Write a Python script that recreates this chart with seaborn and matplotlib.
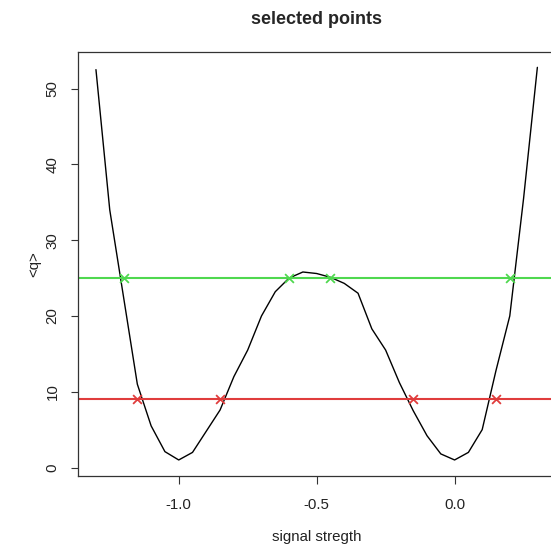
import matplotlib
matplotlib.use("Agg")
import matplotlib.pyplot as plt
import seaborn as sns
import pandas as pd

# signal strength grid and mean q
signal = [-1.30, -1.25, -1.20, -1.15, -1.10, -1.05, -1.00, -0.95, -0.90, -0.85,
          -0.80, -0.75, -0.70, -0.65, -0.60, -0.55, -0.50, -0.45, -0.40, -0.35,
          -0.30, -0.25, -0.20, -0.15, -0.10, -0.05, 0.00, 0.05, 0.10, 0.15,
          0.20, 0.25, 0.30]
q_mean = [52.5, 34.0, 22.5, 11.0, 5.5, 2.1, 1.0, 2.0, 4.8, 7.6,
          12.0, 15.5, 20.0, 23.2, 25.0, 25.8, 25.6, 25.1, 24.3, 23.0,
          18.3, 15.5, 11.2, 7.5, 4.2, 1.8, 1.0, 2.0, 5.0, 12.8,
          20.0, 35.5, 52.8]

# horizontal levels and the grid points picked for each
level_high = 25
level_low = 9
picked_high = [-1.20, -0.60, -0.45, 0.20]
picked_low = [-1.15, -0.85, -0.15, 0.15]

green = "#4fd84f"
red = "#e03c3c"

df = pd.DataFrame({"signal": signal, "q": q_mean})
sel_hi = pd.DataFrame({"signal": picked_high, "q": [level_high] * len(picked_high)})
sel_lo = pd.DataFrame({"signal": picked_low, "q": [level_low] * len(picked_low)})

sns.set_style("ticks")
plt.rcParams["font.family"] = ["Liberation Sans", "DejaVu Sans"]

fig = plt.figure(figsize=(5.51, 5.46), dpi=100)
ax = fig.add_axes([0.1421, 0.1288, 0.8652, 0.7766])

sns.lineplot(data=df, x="signal", y="q", color="black", linewidth=1.0, ax=ax)
ax.axhline(level_high, color=green, linewidth=1.5)
ax.axhline(level_low, color=red, linewidth=1.5)
sns.scatterplot(data=sel_hi, x="signal", y="q", marker="x", color=green,
                s=40, linewidth=1.3, ax=ax, zorder=4)
sns.scatterplot(data=sel_lo, x="signal", y="q", marker="x", color=red,
                s=40, linewidth=1.3, ax=ax, zorder=4)

# R-like 4% padding
xr = max(signal) - min(signal)
yr = max(q_mean) - min(q_mean)
ax.set_xlim(min(signal) - 0.04 * xr, max(signal) + 0.04 * xr)
ax.set_ylim(min(q_mean) - 0.04 * yr, max(q_mean) + 0.04 * yr)

ax.set_xticks([-1.0, -0.5, 0.0])
ax.set_xticklabels(["-1.0", "-0.5", "0.0"])
ax.set_yticks([0, 10, 20, 30, 40, 50])
ax.tick_params(axis="both", length=5.4, width=0.8, color="#333333",
               labelsize=10.8, labelcolor="#222222")
ax.tick_params(axis="x", pad=10.5)
ax.tick_params(axis="y", pad=8, labelrotation=90)
for lab in ax.get_yticklabels():
    lab.set_va("center")

for sp in ax.spines.values():
    sp.set_color("#333333")
    sp.set_linewidth(0.9)

ax.set_xlabel("signal stregth", fontsize=10.8, labelpad=13, color="#222222")
ax.set_ylabel("<q>", fontsize=10.8, labelpad=3, color="#222222")
ax.set_title("selected points", fontsize=13, fontweight="bold", pad=20)

fig.savefig("out.png", dpi=100)
